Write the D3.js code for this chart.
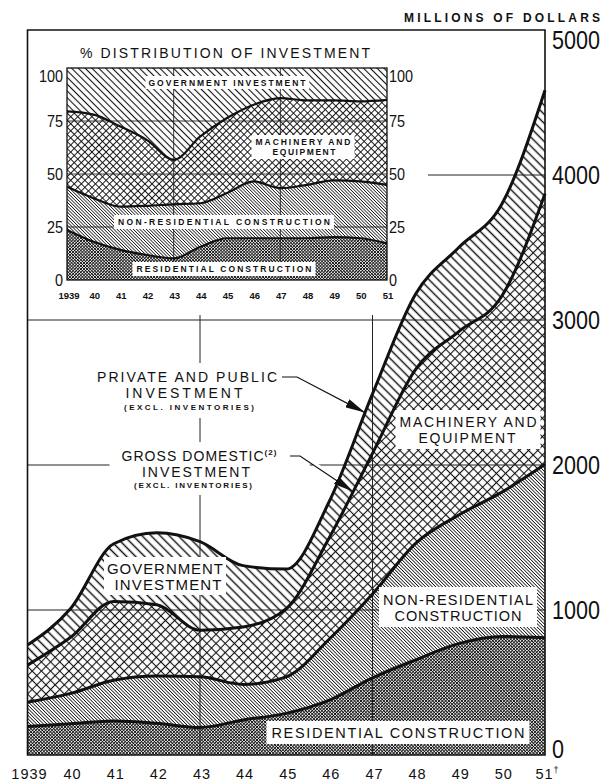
<!DOCTYPE html>
<html><head><meta charset="utf-8">
<script src="https://cdn.jsdelivr.net/npm/d3@7"></script>
<style>
body{margin:0;background:#fff}
svg{display:block}
text{font-family:"Liberation Sans",Arial,sans-serif;fill:#111}
</style>
</head><body>
<svg id="c" width="616" height="782"></svg>
<script>
// ---------------- data ----------------
const years = [1939,1940,1941,1942,1943,1944,1945,1946,1947,1948,1949,1950,1951];
const yearLabels = ["1939","40","41","42","43","44","45","46","47","48","49","50","51"];
// millions of dollars
const residential    = [197,215,235,219,190,242,287,378,532,656,768,817,808];
const nonResidential = [167,210,280,325,349,245,252,422,578,804,887,996,1197];
const machinery      = [256,387,544,492,322,396,471,700,970,1200,1265,1352,1865];
const government     = [138,198,398,496,610,423,272,250,410,520,580,635,715];
// % distribution (inset)
const shareResidential    = [23.6,18,14.2,11.8,10.2,15.7,19.7,19.7,19.7,19.7,20.2,19.7,17.3];
const shareNonResidential = [20.4,20.6,20.4,23.2,25.5,20.5,21.3,26.8,23.6,25.2,26.8,26.8,27.6];
const shareMachinery      = [35.5,39.4,37.8,31,21,31.5,35.4,36.2,42.5,39.8,37.7,37.8,40.1];
const shareGovernment     = [20.5,22,27.6,34,43.3,32.3,23.6,17.3,14.2,15.3,15.3,15.7,15];
const valueTicks = [0,1000,2000,3000,4000,5000];
const shareTicks = [0,25,50,75,100];
const keys = ["residential","nonResidential","machinery","government"];

// ---------------- setup ----------------
const svg = d3.select("#c");
const defs = svg.append("defs");
function hatch(id, s, sw, cross){
  const p = defs.append("pattern").attr("id",id).attr("patternUnits","userSpaceOnUse")
    .attr("width",s).attr("height",s).attr("patternTransform","rotate(-45)");
  p.append("rect").attr("width",s).attr("height",s).attr("fill","#fff");
  p.append("line").attr("x1",s/2).attr("x2",s/2).attr("y1",-1).attr("y2",s+1)
    .attr("stroke","#111").attr("stroke-width",sw);
  if(cross) p.append("line").attr("y1",s/2).attr("y2",s/2).attr("x1",-1).attr("x2",s+1)
    .attr("stroke","#111").attr("stroke-width",sw);
}
hatch("mRes",2.3,0.85,true);
hatch("mNon",2.4,0.8,false);
hatch("mMach",6.5,1.1,true);
hatch("mGov",6.4,1.45,false);
hatch("iRes",2.2,0.8,true);
hatch("iNon",2.3,0.75,false);
hatch("iMach",5.0,0.95,true);
hatch("iGov",4.8,1.1,false);
const fills = {residential:"mRes",nonResidential:"mNon",machinery:"mMach",government:"mGov"};
const ifills = {residential:"iRes",nonResidential:"iNon",machinery:"iMach",government:"iGov"};

const marker = defs.append("marker").attr("id","ah").attr("viewBox","0 0 10 10")
  .attr("refX",10).attr("refY",5).attr("markerUnits","userSpaceOnUse")
  .attr("markerWidth",20).attr("markerHeight",9).attr("preserveAspectRatio","none")
  .attr("orient","auto");
marker.append("path").attr("d","M0,0 L10,5 L0,10 Z").attr("fill","#111");

// ---------------- main chart ----------------
const L = 27.5, R = 545, T = 30, B = 755;
const x = d3.scaleLinear().domain([years[0], years[years.length-1]]).range([L, R]);
const y = d3.scaleLinear().domain([0, 5000]).range([B, T]);

const rows = years.map((yr,i)=>({year:yr, residential:residential[i], nonResidential:nonResidential[i], machinery:machinery[i], government:government[i]}));
const stacked = d3.stack().keys(keys)(rows);

const area = d3.area().x(d=>x(d.data.year)).y0(d=>y(d[0])).y1(d=>y(d[1])).curve(d3.curveMonotoneX);
const topLine = d3.line().x(d=>x(d.data.year)).y(d=>y(d[1])).curve(d3.curveMonotoneX);

const gMain = svg.append("g");
gMain.selectAll("path.area").data(stacked).join("path").attr("class","area")
  .attr("d",area).attr("fill",d=>`url(#${fills[d.key]})`);

// grid lines
const grid = gMain.append("g").attr("stroke","#222").attr("stroke-width",1).attr("fill","none");
[1000,2000,3000].forEach(v=>grid.append("line").attr("x1",L).attr("x2",R).attr("y1",y(v)).attr("y2",y(v)));
grid.append("line").attr("x1",428).attr("x2",R).attr("y1",y(4000)).attr("y2",y(4000));
[1943,1947].forEach(v=>grid.append("line").attr("x1",x(v)).attr("x2",x(v)).attr("y1",y(3000)-5).attr("y2",B));

// boundary lines
gMain.selectAll("path.bline").data(stacked).join("path").attr("class","bline")
  .attr("d",topLine).attr("fill","none").attr("stroke","#111").attr("stroke-width",3).attr("stroke-linejoin","round");

// frame
svg.append("path").attr("d",`M${L},${B} L${L},${T} L${R},${T} L${R},${B} Z`)
  .attr("fill","none").attr("stroke","#111").attr("stroke-width",1.6);

// right axis labels
svg.append("g").selectAll("text").data(valueTicks).join("text")
  .attr("x",552)
  .attr("y",v=> v===5000 ? y(v)+19 : (v===0 ? y(v)+3 : y(v)+9))
  .style("font-size","25px")
  .attr("textLength",v=>String(v).length*12).attr("lengthAdjust","spacingAndGlyphs")
  .text(v=>v);

svg.append("text").attr("x",600).attr("y",22).attr("text-anchor","end")
  .style("font-size","12px").style("font-weight","bold")
  .attr("textLength",196).attr("lengthAdjust","spacing")
  .text("MILLIONS OF DOLLARS");

// x axis labels
const xl = svg.append("g");
yearLabels.forEach((t,i)=>{
  const tx = xl.append("text").attr("x",x(years[i])+2).attr("y",779).attr("text-anchor","middle")
    .style("font-size","14.5px").style("letter-spacing","1px").text(t);
  if(i===yearLabels.length-1){
    tx.append("tspan").attr("dy",-6).style("font-size","9px").style("letter-spacing","0").text("†");
  }
});

// label helper
function label(lines, pad){
  const g = svg.append("g");
  const rect = g.append("rect").attr("fill","#fff");
  lines.forEach(l=>{
    const t = g.append("text").attr("x",l.x).attr("y",l.y).attr("text-anchor","middle")
      .style("font-size",l.size+"px").style("font-weight",l.bold?"bold":"normal");
    if(l.len) t.attr("textLength",l.len).attr("lengthAdjust","spacing");
    t.text(l.text);
    if(l.sup) t.append("tspan").attr("dy",-6).style("font-size","8px").style("font-weight","bold").text(l.sup);
  });
  const bb = g.node().getBBox();
  rect.attr("x",bb.x-pad[3]).attr("y",bb.y-pad[0]).attr("width",bb.width+pad[1]+pad[3]).attr("height",bb.height+pad[0]+pad[2]);
  return g;
}

label([{text:"GOVERNMENT",x:165,y:574,size:15,len:116},{text:"INVESTMENT",x:168,y:590,size:15,len:107}],[3,3,2,3]);
label([{text:"MACHINERY AND",x:468,y:427,size:14,len:137},{text:"EQUIPMENT",x:467,y:443,size:14,len:97}],[4,4,3,4]);
label([{text:"NON-RESIDENTIAL",x:458,y:605,size:14.5,len:150},{text:"CONSTRUCTION",x:458,y:621,size:14.5,len:127}],[5,4,3,4]);
label([{text:"RESIDENTIAL CONSTRUCTION",x:398,y:738,size:14.5,len:253}],[4,5,3,5]);
label([{text:"PRIVATE AND PUBLIC",x:187,y:382,size:14,len:180},{text:"INVESTMENT",x:184,y:398,size:14,len:117},
       {text:"(EXCL. INVENTORIES)",x:189,y:410,size:8,bold:true,len:130}],[6,8,6,8]);
label([{text:"GROSS DOMESTIC",x:199,y:461,size:14,len:155,sup:"(2)"},{text:"INVESTMENT",x:196,y:477,size:14,len:108},
       {text:"(EXCL. INVENTORIES)",x:193,y:488,size:8,bold:true,len:118}],[6,33,5,12]);

// arrows pointing to the top two lines
function pointOn(layerIndex, px){
  const yr = x.invert(px);
  const i = Math.min(Math.floor(yr - years[0]), years.length-2);
  const f = yr - years[i];
  const s = stacked[layerIndex];
  const v = s[i][1] + (s[i+1][1]-s[i][1])*f;
  return [px, y(v)];
}
const tipP = pointOn(3, 365);
const tipG = pointOn(2, 353);
const arrows = svg.append("g").attr("fill","none");
arrows.append("path").attr("d",`M282,377 L297,377 L${tipP[0]},${tipP[1]}`)
  .attr("stroke","#111").attr("stroke-width",1.2).attr("marker-end","url(#ah)");
const gStart=[300,456];
const halo = [gStart[0]+(tipG[0]-gStart[0])*0.25, gStart[1]+(tipG[1]-gStart[1])*0.25];
const haloEnd = [gStart[0]+(tipG[0]-gStart[0])*0.8, gStart[1]+(tipG[1]-gStart[1])*0.8];
arrows.append("path").attr("d",`M${halo[0]},${halo[1]} L${haloEnd[0]},${haloEnd[1]}`)
  .attr("stroke","#fff").attr("stroke-width",7);
arrows.append("path").attr("d",`M290,456 L${gStart[0]},${gStart[1]} L${tipG[0]},${tipG[1]}`)
  .attr("stroke","#111").attr("stroke-width",1.2).attr("marker-end","url(#ah)");

// ---------------- inset ----------------
const iL = 67, iR = 387, iT = 68, iB = 280;
const ix = d3.scaleLinear().domain([years[0], years[years.length-1]]).range([iL, iR]);
const iy = d3.scaleLinear().domain([0,100]).range([iB, iT]);
const irows = years.map((yr,i)=>({year:yr, residential:shareResidential[i], nonResidential:shareNonResidential[i], machinery:shareMachinery[i], government:shareGovernment[i]}));
const istacked = d3.stack().keys(keys)(irows);
const iarea = d3.area().x(d=>ix(d.data.year)).y0(d=>iy(d[0])).y1(d=>iy(d[1])).curve(d3.curveMonotoneX);
const iline = d3.line().x(d=>ix(d.data.year)).y(d=>iy(d[1])).curve(d3.curveMonotoneX);
const gIn = svg.append("g");
gIn.selectAll("path.a").data(istacked).join("path").attr("class","a")
  .attr("d",iarea).attr("fill",d=>`url(#${ifills[d.key]})`);
const igrid = gIn.append("g").attr("stroke","#222").attr("stroke-width",0.9);
[25,50,75].forEach(v=>igrid.append("line").attr("x1",iL).attr("x2",iR).attr("y1",iy(v)).attr("y2",iy(v)));
[1943,1947].forEach(v=>igrid.append("line").attr("x1",ix(v)).attr("x2",ix(v)).attr("y1",iT).attr("y2",iB));
gIn.selectAll("path.l").data(istacked.slice(0,3)).join("path").attr("class","l")
  .attr("d",iline).attr("fill","none").attr("stroke","#111").attr("stroke-width",2.2);
gIn.append("rect").attr("x",iL).attr("y",iT).attr("width",iR-iL).attr("height",iB-iT)
  .attr("fill","none").attr("stroke","#111").attr("stroke-width",1.3);

const labelY = v => v===100 ? iy(v)+14 : iy(v)+6;
svg.append("g").selectAll("text").data(shareTicks).join("text")
  .attr("x",63).attr("y",labelY).attr("text-anchor","end")
  .style("font-size","16px").attr("textLength",v=>String(v).length*8).attr("lengthAdjust","spacingAndGlyphs").text(v=>v);
svg.append("g").selectAll("text").data(shareTicks).join("text")
  .attr("x",389).attr("y",labelY)
  .style("font-size","16px").attr("textLength",v=>String(v).length*8).attr("lengthAdjust","spacingAndGlyphs").text(v=>v);
svg.append("g").selectAll("text").data(yearLabels).join("text")
  .attr("x",(t,i)=>ix(years[i])+(i===0?2:1)).attr("y",299).attr("text-anchor","middle")
  .style("font-size","9.5px").style("font-weight","bold").text(t=>t);

svg.append("text").attr("x",225).attr("y",58).attr("text-anchor","middle")
  .style("font-size","14px").attr("textLength",290).attr("lengthAdjust","spacing")
  .text("% DISTRIBUTION OF INVESTMENT");

label([{text:"GOVERNMENT INVESTMENT",x:227,y:86,size:8.5,bold:true,len:157}],[2,3,1,3]);
label([{text:"MACHINERY AND",x:303,y:145,size:8.5,bold:true,len:95},{text:"EQUIPMENT",x:304,y:155,size:8.5,bold:true,len:63}],[2,4,2,4]);
label([{text:"NON-RESIDENTIAL CONSTRUCTION",x:224,y:225,size:8.5,bold:true,len:212}],[2,4,2,4]);
label([{text:"RESIDENTIAL CONSTRUCTION",x:224,y:272,size:8.5,bold:true,len:175}],[2,4,2,4]);
</script>
</body></html>
